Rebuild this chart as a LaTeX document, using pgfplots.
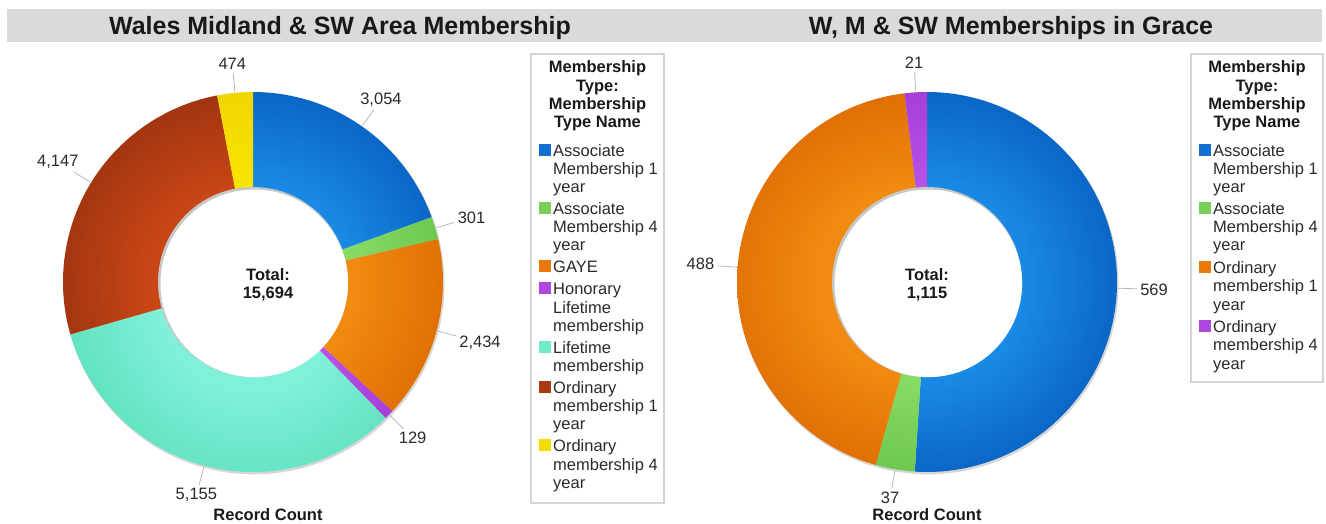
\documentclass[border=0pt]{standalone}
\usepackage{pgfplots}
\pgfplotsset{compat=1.18}
\usepackage{pgfplotstable}
\usepackage{fontspec}
\setmainfont{Liberation Sans}

\definecolor{txt}{HTML}{2A2A2A}
\definecolor{bandgray}{HTML}{DADADA}
\definecolor{boxc}{HTML}{D4D4D4}
\definecolor{blueL}{HTML}{1A8AE6}
\definecolor{blueD}{HTML}{0B66C6}
\definecolor{blueM}{HTML}{1470D0}
\definecolor{greenL}{HTML}{88DC66}
\definecolor{greenD}{HTML}{6EC850}
\definecolor{greenM}{HTML}{78CF58}
\definecolor{orangeL}{HTML}{F08A10}
\definecolor{orangeD}{HTML}{E06E04}
\definecolor{orangeM}{HTML}{E8780C}
\definecolor{purpleL}{HTML}{B853E8}
\definecolor{purpleD}{HTML}{A63ED8}
\definecolor{purpleM}{HTML}{AE48E0}
\definecolor{tealL}{HTML}{80F0D8}
\definecolor{tealD}{HTML}{60E2C0}
\definecolor{tealM}{HTML}{70EAC8}
\definecolor{brownL}{HTML}{C84616}
\definecolor{brownD}{HTML}{A0340F}
\definecolor{brownM}{HTML}{A83A12}
\definecolor{yellowL}{HTML}{F8E400}
\definecolor{yellowD}{HTML}{F0D600}
\definecolor{yellowM}{HTML}{F4DC00}

\newcommand\mkshade[1]{\pgfdeclareradialshading{sh#1}{\pgfpointorigin}{color(0bp)=(#1L); color(12.5bp)=(#1L); color(25bp)=(#1D); color(50bp)=(#1D)}}
\mkshade{blue}\mkshade{green}\mkshade{orange}\mkshade{purple}\mkshade{teal}\mkshade{brown}\mkshade{yellow}

\pgfkeys{/pgf/number format/.cd, fixed, precision=0, 1000 sep={,}, assume math mode=true}

% Wales Midland & SW Area Membership
\pgfplotstableread{
value col
3054 blue
301 green
2434 orange
129 purple
5155 teal
4147 brown
474 yellow
}\walesdata

% W, M & SW Memberships in Grace
\pgfplotstableread{
value col
569 blue
37 green
488 orange
21 purple
}\gracedata

\newcommand\prepdonut[2]{%
  \pgfplotstablegetrowsof{#1}%
  \pgfmathtruncatemacro\dlast{\pgfplotsretval-1}%
  \def\dtot{0}%
  \pgfplotsforeachungrouped \i in {0,...,\dlast}{%
    \pgfplotstablegetelem{\i}{value}\of#1%
    \pgfmathsetmacro\dtot{\dtot+\pgfplotsretval}%
  }%
  \expandafter\xdef\csname #2tot\endcsname{\dtot}%
  \expandafter\xdef\csname #2last\endcsname{\dlast}%
  \def\dcum{0}%
  \pgfplotsforeachungrouped \i in {0,...,\dlast}{%
    \pgfplotstablegetelem{\i}{value}\of#1%
    \edef\dval{\pgfplotsretval}%
    \expandafter\xdef\csname #2v\i\endcsname{\dval}%
    \pgfmathsetmacro\dsa{90-360*(\dcum/\dtot)}%
    \pgfmathsetmacro\dcum{\dcum+\dval}%
    \pgfmathsetmacro\dea{90-360*(\dcum/\dtot)}%
    \pgfmathsetmacro\dma{(\dsa+\dea)/2}%
    \pgfmathsetmacro\dan{mod(\dma+540,360)}%
    \expandafter\xdef\csname #2s\i\endcsname{\dsa}%
    \expandafter\xdef\csname #2e\i\endcsname{\dea}%
    \expandafter\xdef\csname #2m\i\endcsname{\dma}%
    \expandafter\xdef\csname #2a\i\endcsname{\dan}%
    \pgfplotstablegetelem{\i}{col}\of#1%
    \expandafter\xdef\csname #2c\i\endcsname{\pgfplotsretval}%
  }%
}
\prepdonut{\walesdata}{A}
\prepdonut{\gracedata}{B}

\tikzset{
  lbl/.style={font=\fontsize{16.5bp}{19bp}\selectfont, text=txt, inner sep=3bp},
  lgd/.style={font=\fontsize{16.5bp}{19bp}\selectfont, text=txt, inner sep=0pt},
  lgdt/.style={font=\fontsize{16.5bp}{19bp}\selectfont\bfseries, text=black!90, inner sep=0pt},
  ttl/.style={font=\fontsize{25bp}{30bp}\selectfont\bfseries, text=black!90, inner sep=0pt},
  leader/.style={draw=black!28, line width=0.8bp},
}

% #1 prefix, #2 cx, #3 cy, #4 x of centre text
\newcommand\drawdonut[4]{%
  \edef\dlast{\csname #1last\endcsname}%
  \fill[black!16] (axis cs:#2+1,#3+1.8) circle[radius=190.5bp];
  \pgfplotsforeachungrouped \i in {0,...,\dlast}{%
    \edef\dtmp{\noexpand\path[path picture={\noexpand\shade[shading=sh\csname #1c\i\endcsname] (axis cs:#2,#3) circle[radius=190bp];}] (axis cs:#2,#3) -- +(\csname #1s\i\endcsname:190bp) arc[start angle=\csname #1s\i\endcsname, end angle=\csname #1e\i\endcsname, radius=190bp] -- cycle;}%
    \dtmp
  }%
  \pgfplotsforeachungrouped \i in {0,...,\dlast}{%
    \edef\dtmp{\noexpand\draw[leader] (axis cs:#2,#3) ++(\csname #1m\i\endcsname:191bp) -- ++(\csname #1m\i\endcsname:19bp) node[lbl, anchor=\csname #1a\i\endcsname, pos=1] {\noexpand\pgfmathprintnumber{\csname #1v\i\endcsname}};}%
    \dtmp
  }%
  \fill[black!22] (axis cs:#2,#3) circle[radius=95bp];
  \fill[white] (axis cs:#2+1.3,#3+1.3) circle[radius=93.8bp];
  \node[lgdt, anchor=base] at (axis cs:#4,280) {Total:};
  \node[lgdt, anchor=base] at (axis cs:#4,298) {\pgfmathprintnumber{\csname #1tot\endcsname}};
  \node[lgdt, anchor=base] at (axis cs:#4,520.5) {Record Count};
}

\newcommand\lt[3]{\node[lgd, anchor=base west] at (axis cs:#1,#2) {#3};}
\newcommand\ltt[3]{\node[lgdt, anchor=base] at (axis cs:#1,#2) {#3};}
\newcommand\lsq[3]{\fill[#3] (axis cs:#1,#2-12.5) rectangle (axis cs:#1+12,#2-0.5);}

\begin{document}
\begin{tikzpicture}
\begin{axis}[width=1326bp, height=523bp, scale only axis,
  xmin=0, xmax=1326, ymin=0, ymax=523, y dir=reverse,
  hide axis, clip=false]
\path (axis cs:0,0) rectangle (axis cs:1326,523);
\fill[bandgray] (axis cs:7,9) rectangle (axis cs:1322,42);
\node[ttl, anchor=base] at (axis cs:340,34.5) {Wales Midland \& SW Area Membership};
\node[ttl, anchor=base] at (axis cs:1011,34.5) {W, M \& SW Memberships in Grace};

\drawdonut{A}{253}{282}{268}
\drawdonut{B}{927}{282}{927}

% legend 1
\draw[boxc, line width=1.2bp] (axis cs:531,54) rectangle (axis cs:664,503);
\ltt{597.5}{72.7}{Membership}
\ltt{597.5}{91}{Type:}
\ltt{597.5}{109.3}{Membership}
\ltt{597.5}{127.6}{Type Name}
\lsq{539}{156}{blueM}
\lt{553}{156}{Associate}\lt{553}{174.2}{Membership 1}\lt{553}{192.4}{year}
\lsq{539}{214.4}{greenM}
\lt{553}{214.4}{Associate}\lt{553}{232.6}{Membership 4}\lt{553}{250.8}{year}
\lsq{539}{272.8}{orangeM}
\lt{553}{272.8}{GAYE}
\lsq{539}{294.8}{purpleM}
\lt{553}{294.8}{Honorary}\lt{553}{313}{Lifetime}\lt{553}{331.2}{membership}
\lsq{539}{353.2}{tealM}
\lt{553}{353.2}{Lifetime}\lt{553}{371.4}{membership}
\lsq{539}{393.4}{brownM}
\lt{553}{393.4}{Ordinary}\lt{553}{411.6}{membership 1}\lt{553}{429.8}{year}
\lsq{539}{451.8}{yellowM}
\lt{553}{451.8}{Ordinary}\lt{553}{470}{membership 4}\lt{553}{488.2}{year}

% legend 2
\draw[boxc, line width=1.2bp] (axis cs:1191,54) rectangle (axis cs:1323,382);
\ltt{1257}{72.7}{Membership}
\ltt{1257}{91}{Type:}
\ltt{1257}{109.3}{Membership}
\ltt{1257}{127.6}{Type Name}
\lsq{1199}{156}{blueM}
\lt{1213}{156}{Associate}\lt{1213}{174.2}{Membership 1}\lt{1213}{192.4}{year}
\lsq{1199}{214.4}{greenM}
\lt{1213}{214.4}{Associate}\lt{1213}{232.6}{Membership 4}\lt{1213}{250.8}{year}
\lsq{1199}{273}{orangeM}
\lt{1213}{273}{Ordinary}\lt{1213}{291.5}{membership 1}\lt{1213}{310}{year}
\lsq{1199}{332}{purpleM}
\lt{1213}{332}{Ordinary}\lt{1213}{350.5}{membership 4}\lt{1213}{369}{year}
\end{axis}
\end{tikzpicture}
\end{document}
